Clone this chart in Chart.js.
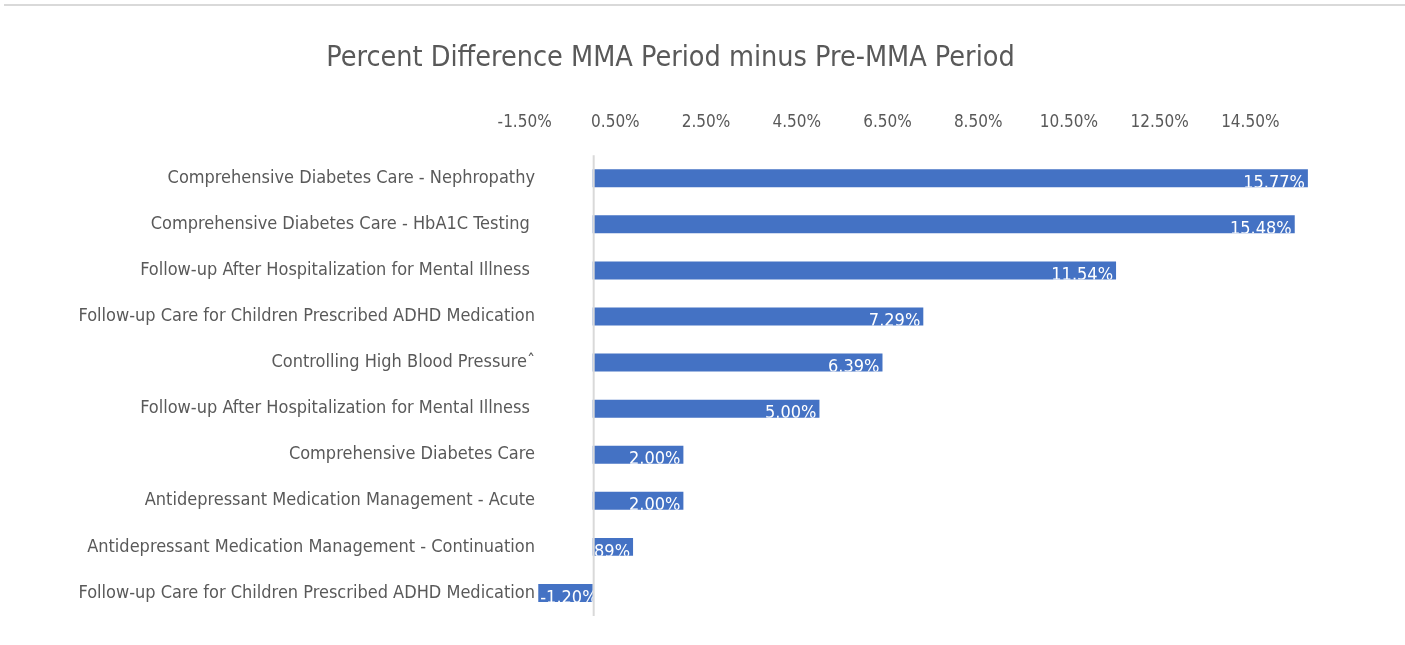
<!DOCTYPE html>
<html>
<head>
<meta charset="utf-8">
<script src="https://cdn.jsdelivr.net/npm/chart.js@4.4.1/dist/chart.umd.min.js"></script>
<style>
  html, body { margin: 0; padding: 0; background: #fff; }
  #wrap { position: relative; width: 1405px; height: 645px; }
  #topline { position: absolute; top: 4px; left: 4px; right: 0; border-top: 2px solid #d9d9d9; }
</style>
</head>
<body>
<div id="wrap">
  <div id="topline"></div>
  <canvas id="diffChart" width="1405" height="645"></canvas>
</div>
<script>
// measures, top to bottom
const measures = [
  "Comprehensive Diabetes Care - Nephropathy",
  "Comprehensive Diabetes Care - HbA1C Testing ",
  "Follow-up After Hospitalization for Mental Illness ",
  "Follow-up Care for Children Prescribed ADHD Medication",
  "Controlling High Blood Pressure\u02C6",
  "Follow-up After Hospitalization for Mental Illness ",
  "Comprehensive Diabetes Care",
  "Antidepressant Medication Management - Acute",
  "Antidepressant Medication Management - Continuation",
  "Follow-up Care for Children Prescribed ADHD Medication"
];

// percent difference (MMA minus pre-MMA)
const pctDiff = [15.77, 15.48, 11.54, 7.29, 6.39, 5.00, 2.00, 2.00, 0.89, -1.20];

const xTicks = [-1.5, 0.5, 2.5, 4.5, 6.5, 8.5, 10.5, 12.5, 14.5];

const FONT = "'Liberation Sans Narrow', 'DejaVu Sans Condensed', 'Arial Narrow', sans-serif";
const GREY = "#595959";

// white value labels at the inside end of each bar, clipped to the bar
const barLabels = {
  id: "barLabels",
  afterDatasetsDraw(chart) {
    const ctx = chart.ctx;
    const meta = chart.getDatasetMeta(0);
    meta.data.forEach((bar, i) => {
      const v = pctDiff[i];
      const p = bar.getProps(["x", "y", "base", "height"], true);
      const left = Math.min(p.x, p.base);
      const right = Math.max(p.x, p.base);
      ctx.save();
      ctx.beginPath();
      ctx.rect(left, p.y - p.height / 2, right - left, p.height);
      ctx.clip();
      ctx.fillStyle = "#ffffff";
      ctx.font = "18px " + FONT;
      ctx.textBaseline = "middle";
      const txt = v.toFixed(2) + "%";
      if (v >= 0) {
        ctx.textAlign = "right";
        ctx.fillText(txt, p.x - 3, p.y + 5);
      } else {
        ctx.textAlign = "left";
        ctx.fillText(txt, p.x + 2, p.y + 5);
      }
      ctx.restore();
    });
  }
};

// vertical axis line sits at zero
const zeroLine = {
  id: "zeroLine",
  afterDatasetsDraw(chart) {
    const ctx = chart.ctx;
    const x0 = chart.scales.x.getPixelForValue(0);
    const area = chart.chartArea;
    ctx.save();
    ctx.strokeStyle = "#d9d9d9";
    ctx.lineWidth = 2;
    ctx.beginPath();
    ctx.moveTo(x0 + 1, area.top);
    ctx.lineTo(x0 + 1, area.bottom);
    ctx.stroke();
    ctx.restore();
  }
};

new Chart(document.getElementById("diffChart"), {
  type: "bar",
  data: {
    labels: measures,
    datasets: [
      {
        data: pctDiff,
        backgroundColor: "#4472C4",
        borderWidth: 0,
        barPercentage: 0.39,
        categoryPercentage: 1.0,
      },
    ],
  },
  options: {
    indexAxis: "y",
    responsive: false,
    animation: false,
    layout: {
      padding: { left: 0, right: 64, bottom: 29, top: 0 },
    },
    plugins: {
      legend: { display: false },
      tooltip: { enabled: false },
      title: {
        display: true,
        text: "Percent Difference MMA Period minus Pre-MMA Period",
        color: GREY,
        font: { family: FONT, size: 28.5, weight: "normal" },
        padding: { top: 41, bottom: 9 },
      },
    },
    scales: {
      x: {
        position: "top",
        min: -1.25,
        max: 16.5,
        afterBuildTicks(axis) {
          axis.ticks = xTicks.map((v) => ({ value: v }));
        },
        afterFit(axis) {
          axis.height = 71;
        },
        grid: { display: false, drawTicks: false },
        border: { display: false },
        ticks: {
          color: GREY,
          font: { family: FONT, size: 17 },
          padding: 22,
          maxRotation: 0,
          autoSkip: false,
          callback: (v) => Number(v).toFixed(2) + "%",
        },
      },
      y: {
        afterFit(axis) {
          axis.width = 536;
        },
        grid: { display: false, drawTicks: false },
        border: { display: false },
        ticks: {
          color: GREY,
          font: { family: FONT, size: 18 },
          padding: 1,
          autoSkip: false,
        },
      },
    },
  },
  plugins: [zeroLine, barLabels],
});
</script>
</body>
</html>
